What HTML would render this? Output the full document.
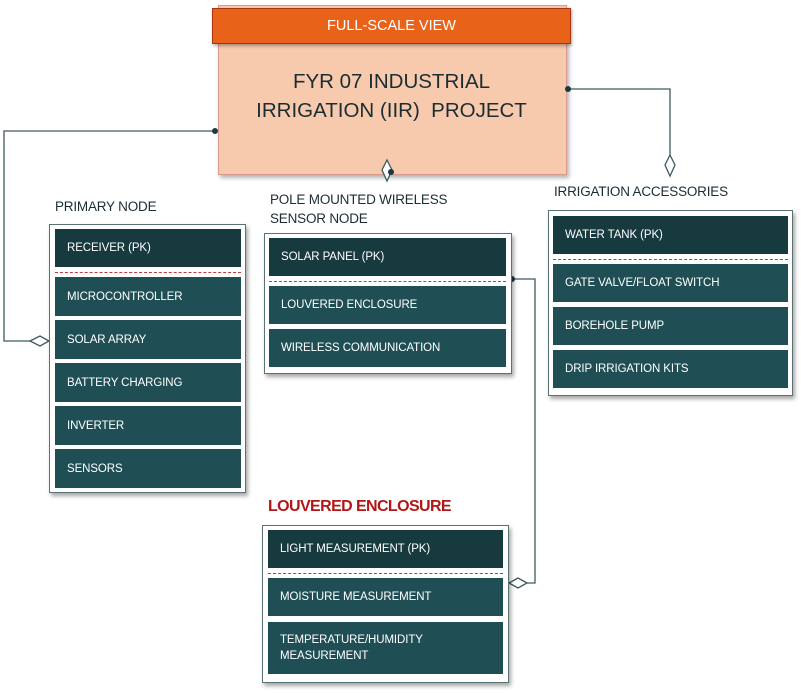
<!DOCTYPE html>
<html><head><style>
body{margin:0;width:801px;height:693px;background:#fff;position:relative;overflow:hidden;font-family:"Liberation Sans",sans-serif}
.a{position:absolute}
.box{position:absolute;background:#fff;border:1px solid #5b7275;box-shadow:2px 3px 4px rgba(0,0,0,.35)}
.r{position:absolute;background:#1f4f55;color:#fff;font-size:11.5px;padding-left:12px;box-sizing:border-box;display:flex;align-items:center;letter-spacing:-.1px}
.pk{background:#173a3f}
.d{position:absolute;border-top:1px dashed #c23a3a;height:0}
.lb{position:absolute;color:#1b2d33;font-size:13.5px;letter-spacing:-.2px}
</style></head><body>
<div class="a" style="left:218px;top:5px;width:347px;height:168px;background:#f7c9ad;border:1px solid #d99a90;box-shadow:2px 3px 4px rgba(0,0,0,.3)"></div>
<div class="a" style="left:212px;top:8px;width:357px;height:34px;background:#e8621a;border:1px solid #a8350f;box-shadow:1px 2px 3px rgba(0,0,0,.3);color:#fff;font-size:14.5px;text-align:center;line-height:34px">FULL-SCALE VIEW</div>
<div class="a" style="left:218px;top:67px;width:347px;text-align:center;color:#1b2d33;font-size:20.5px;line-height:29px">FYR 07 INDUSTRIAL<br>IRRIGATION (IIR)&nbsp; PROJECT</div>

<svg class="a" style="left:0;top:0" width="801" height="693">
<g fill="none" stroke="#3d5a5e" stroke-width="1.3">
<path d="M215 131 H4 V341 H30"/>
<path d="M30 341 L40 336 L49 341 L40 346 Z" fill="#fff"/>
<path d="M568 89 H670 V155"/>
<path d="M670 155 L675 165 L670 176 L665 165 Z" fill="#fff"/>
<path d="M387 160 L392 170 L387 181 L382 170 Z" fill="#fff"/>
<path d="M512 279 H535 V583 H527"/>
<path d="M527 583 L518 578 L509 583 L518 588 Z" fill="#fff"/>
</g>
<circle cx="215" cy="131" r="3" fill="#1b3a3f"/>
<circle cx="568" cy="89" r="3" fill="#1b3a3f"/>
<circle cx="391" cy="172" r="3" fill="#1b3a3f"/>
<circle cx="512" cy="279" r="3" fill="#1b3a3f"/>
</svg>

<div class="lb" style="left:55px;top:199px">PRIMARY NODE</div>
<div class="box" style="left:49px;top:224px;width:195px;height:267px"></div>
<div class="r pk" style="left:55px;top:229px;width:186px;height:38px">RECEIVER (PK)</div>
<div class="d" style="left:55px;top:272px;width:186px"></div>
<div class="r" style="left:55px;top:277px;width:186px;height:39px">MICROCONTROLLER</div>
<div class="r" style="left:55px;top:320px;width:186px;height:39px">SOLAR ARRAY</div>
<div class="r" style="left:55px;top:363px;width:186px;height:39px">BATTERY CHARGING</div>
<div class="r" style="left:55px;top:406px;width:186px;height:39px">INVERTER</div>
<div class="r" style="left:55px;top:449px;width:186px;height:39px">SENSORS</div>

<div class="lb" style="left:270px;top:190px;line-height:19px">POLE MOUNTED WIRELESS<br>SENSOR NODE</div>
<div class="box" style="left:264px;top:233px;width:246px;height:139px"></div>
<div class="r pk" style="left:269px;top:238px;width:237px;height:38px">SOLAR PANEL (PK)</div>
<div class="d" style="left:269px;top:281px;width:237px"></div>
<div class="r" style="left:269px;top:286px;width:237px;height:38px">LOUVERED ENCLOSURE</div>
<div class="r" style="left:269px;top:329px;width:237px;height:38px">WIRELESS COMMUNICATION</div>

<div class="lb" style="left:554px;top:184px">IRRIGATION ACCESSORIES</div>
<div class="box" style="left:548px;top:210px;width:243px;height:184px"></div>
<div class="r pk" style="left:553px;top:216px;width:235px;height:38px">WATER TANK (PK)</div>
<div class="d" style="left:553px;top:259px;width:235px"></div>
<div class="r" style="left:553px;top:264px;width:235px;height:38px">GATE VALVE/FLOAT SWITCH</div>
<div class="r" style="left:553px;top:307px;width:235px;height:38px">BOREHOLE PUMP</div>
<div class="r" style="left:553px;top:350px;width:235px;height:38px">DRIP IRRIGATION KITS</div>

<div class="lb" style="left:268px;top:498px;color:#b01818;font-weight:bold;font-size:16px;letter-spacing:-.6px">LOUVERED ENCLOSURE</div>
<div class="box" style="left:262px;top:525px;width:245px;height:156px"></div>
<div class="r pk" style="left:268px;top:530px;width:235px;height:38px">LIGHT MEASUREMENT (PK)</div>
<div class="d" style="left:268px;top:573px;width:235px"></div>
<div class="r" style="left:268px;top:578px;width:235px;height:38px">MOISTURE MEASUREMENT</div>
<div class="r" style="left:268px;top:622px;width:235px;height:52px;line-height:16px">TEMPERATURE/HUMIDITY<br>MEASUREMENT</div>
</body></html>
